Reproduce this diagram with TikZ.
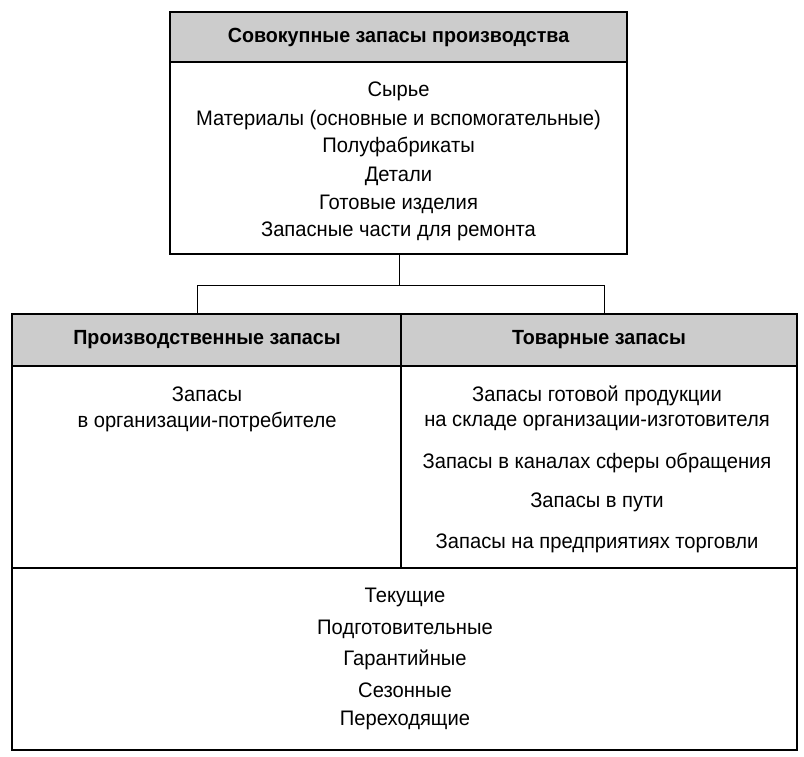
\documentclass[tikz,border=0pt]{standalone}
\usepackage{fontspec}
\setmainfont[FakeStretch=0.96]{Liberation Sans}
\begin{document}
\begin{tikzpicture}[x=1pt,y=-1pt,
  txt/.style={font=\fontsize{21}{24}\selectfont,inner sep=0pt,anchor=center},
  hdr/.style={txt,font=\fontsize{20.5}{24}\selectfont\bfseries},
  ln/.style={line width=1.2pt},
  band/.style={fill=gray!40}]
\useasboundingbox (0,0) rectangle (804,756);
% top box
\fill[band] (170,12) rectangle (627,62);
\draw[ln] (170,12) rectangle (627,254);
\draw[ln] (170,62) -- (627,62);
\node[hdr] (th) at (398.5,37) {Совокупные запасы производства};
\node[txt] (t1) at (398.5,91) {Сырье};
\node[txt] (t2) at (398.5,120) {Материалы (основные и вспомогательные)};
\node[txt] (t3) at (398.5,147) {Полуфабрикаты};
\node[txt] (t4) at (398.5,176) {Детали};
\node[txt] (t5) at (398.5,204) {Готовые изделия};
\node[txt] (t6) at (398.5,231) {Запасные части для ремонта};
% connector
\coordinate (c0) at (399,254);
\coordinate (c1) at (399,285);
\coordinate (cl) at (197,285);
\coordinate (cr) at (604,285);
\coordinate (dl) at (197,314);
\coordinate (dr) at (604,314);
\draw (c0) -- (c1);
\draw (dl) -- (cl) -- (cr) -- (dr);
% lower box
\fill[band] (12,314) rectangle (797,366);
\draw[ln] (12,314) rectangle (797,750);
\draw[ln] (12,366) -- (797,366);
\draw[ln] (401,314) -- (401,568);
\draw[ln] (12,568) -- (797,568);
\node[hdr] (lh) at (207,340) {Производственные запасы};
\node[hdr] (rh) at (599,340) {Товарные запасы};
\node[txt] (l1) at (207,394) {Запасы};
\node[txt] (l2) at (207,422) {в организации-потребителе};
\node[txt] (r1) at (597,396) {Запасы готовой продукции};
\node[txt] (r2) at (597,423) {на складе организации-изготовителя};
\node[txt] (r3) at (597,463) {Запасы в каналах сферы обращения};
\node[txt] (r4) at (597,502) {Запасы в пути};
\node[txt] (r5) at (597,543) {Запасы на предприятиях торговли};
\node[txt] (b1) at (405,597) {Текущие};
\node[txt] (b2) at (405,629) {Подготовительные};
\node[txt] (b3) at (405,660) {Гарантийные};
\node[txt] (b4) at (405,690) {Сезонные};
\node[txt] (b5) at (405,720) {Переходящие};
\end{tikzpicture}
\end{document}
